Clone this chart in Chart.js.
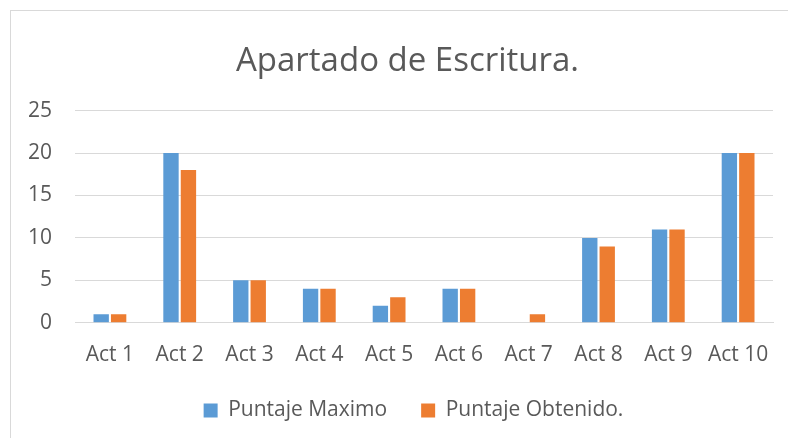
<!DOCTYPE html>
<html lang="es">
<head>
    <meta charset="UTF-8">
    <title>Apartado de Escritura.</title>
    <script src="https://cdn.jsdelivr.net/npm/chart.js"></script>
    <style>
        body { margin: 0; background: #fff; overflow: hidden; }
        .chart-box {
            position: absolute;
            left: 10px;
            top: 10px;
            width: 790px;
            height: 440px;
            border: 1px solid #d9d9d9;
            background: #fff;
        }
    </style>
</head>
<body>
    <div class="chart-box">
        <canvas id="escrituraChart"></canvas>
    </div>

    <script>
        // datos del grafico
        const actividades = ['Act 1', 'Act 2', 'Act 3', 'Act 4', 'Act 5', 'Act 6', 'Act 7', 'Act 8', 'Act 9', 'Act 10'];
        const puntajeMaximo = [1, 20, 5, 4, 2, 4, 0, 10, 11, 20];
        const puntajeObtenido = [1, 18, 5, 4, 3, 4, 1, 9, 11, 20];
        const ticksY = [0, 5, 10, 15, 20, 25];

        const gris = '#595959';
        const fuente = '"Open Sans", sans-serif';

        // mueve titulo y leyenda un poco a la derecha, como en Excel
        const moverBloques = {
            id: 'moverBloques',
            afterLayout(chart) {
                chart.legend.left += 13;
                chart.legend.right += 13;
                chart.titleBlock.left += 7;
                chart.titleBlock.right += 7;
            }
        };

        const ctx = document.getElementById('escrituraChart').getContext('2d');
        new Chart(ctx, {
            type: 'bar',
            data: {
                labels: actividades,
                datasets: [{
                    label: 'Puntaje Maximo',
                    data: puntajeMaximo,
                    backgroundColor: '#5B9BD5'
                }, {
                    label: 'Puntaje Obtenido.',
                    data: puntajeObtenido,
                    backgroundColor: '#ED7D31'
                }]
            },
            plugins: [moverBloques],
            options: {
                responsive: true,
                maintainAspectRatio: false,
                animation: false,
                layout: { padding: { left: 17, right: 28, top: 0, bottom: 20 } },
                datasets: {
                    bar: { categoryPercentage: 0.5, barPercentage: 0.88 }
                },
                plugins: {
                    title: {
                        display: true,
                        text: 'Apartado de Escritura.',
                        color: gris,
                        font: { family: fuente, size: 33, weight: 'normal' },
                        padding: { top: 31, bottom: 29 }
                    },
                    legend: {
                        position: 'bottom',
                        labels: {
                            color: gris,
                            font: { family: fuente, size: 21 },
                            boxWidth: 14,
                            boxHeight: 14,
                            padding: 34
                        }
                    },
                    tooltip: { enabled: false }
                },
                scales: {
                    x: {
                        grid: { display: false },
                        border: { color: '#d9d9d9' },
                        ticks: { color: gris, font: { family: fuente, size: 21 }, padding: 12 },
                        afterFit: (axis) => { axis.height -= 14; }
                    },
                    y: {
                        min: ticksY[0],
                        max: ticksY[ticksY.length - 1],
                        afterBuildTicks: (axis) => { axis.ticks = ticksY.map(v => ({ value: v })); },
                        grid: { color: '#d9d9d9', drawTicks: false },
                        border: { display: false },
                        ticks: { color: gris, font: { family: fuente, size: 21 }, padding: 23 },
                        afterFit: (axis) => { axis.width -= 23; }
                    }
                }
            }
        });
    </script>
</body>
</html>
